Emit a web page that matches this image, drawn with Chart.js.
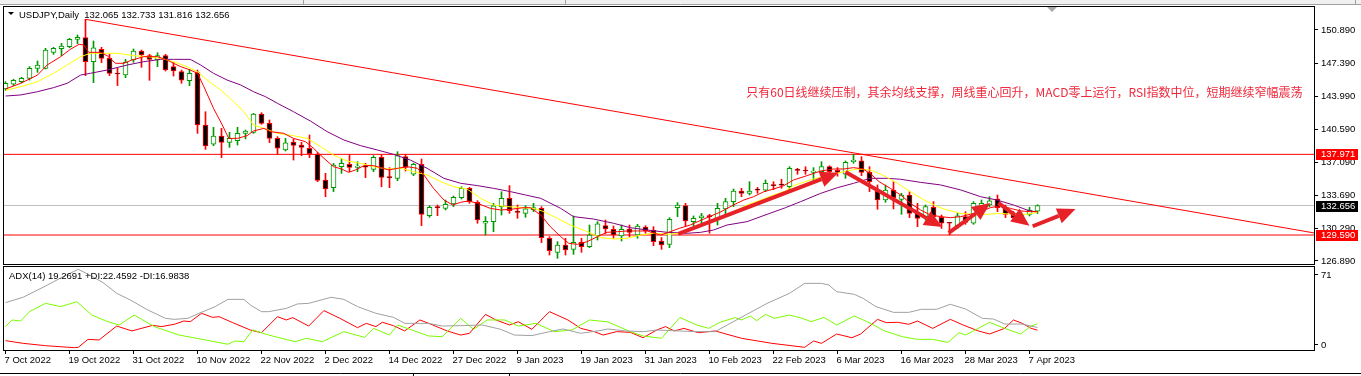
<!DOCTYPE html>
<html>
<head>
<meta charset="utf-8">
<script src="https://cdn.jsdelivr.net/npm/chart.js@4.4.0/dist/chart.umd.min.js"></script>
<style>
  html, body { margin: 0; padding: 0; background: #fff; }
  #wrap { position: relative; width: 1361px; height: 376px; overflow: hidden; background: #fff; }
  #main { position: absolute; left: 0; top: 0; width: 1361px; height: 265px; }
  #adx { position: absolute; left: 0; top: 265px; width: 1361px; height: 111px; }
</style>
</head>
<body>
<div id="wrap">
  <canvas id="main" width="1361" height="265"></canvas>
  <canvas id="adx" width="1361" height="111"></canvas>
</div>
<script>
// USDJPY daily, one entry per bar (bar 0 = 7 Oct 2022, bar 129 = 10 Apr 2023)
const opens = [144.76,145.25,145.52,145.87,146.91,146.91,148.57,148.95,149.16,149.92,
  150.09,147.60,148.88,147.95,146.36,146.21,147.77,148.71,148.22,147.77,
  148.22,147.08,146.56,145.63,146.46,141.02,139.04,139.88,139.22,139.39,
  140.15,140.26,142.16,141.19,139.63,138.42,139.25,138.94,138.60,137.97,
  135.31,134.51,136.69,136.93,136.62,136.69,136.41,137.66,135.62,135.48,
  137.73,135.90,136.93,131.60,132.47,132.36,132.81,133.47,134.44,132.99,
  130.81,130.98,132.54,133.40,132.02,131.84,132.19,132.36,129.25,127.79,
  128.55,128.10,128.83,128.38,129.49,130.56,130.18,129.49,130.21,129.59,
  130.42,130.11,128.97,128.62,132.43,132.64,130.98,131.39,131.57,131.25,
  132.30,133.06,134.16,133.92,134.30,134.26,134.75,134.82,134.62,136.34,
  136.27,136.10,136.17,136.69,136.30,135.90,137.21,137.31,136.10,134.16,
  133.23,134.27,133.30,133.75,131.84,131.50,132.47,131.43,130.84,130.56,
  131.50,130.81,132.54,132.71,133.33,132.43,131.67,131.40,131.74,132.065];
const highs = [145.52,145.77,145.97,147.08,147.67,148.99,149.09,149.50,150.02,150.37,
  152.00,149.75,149.09,148.36,146.91,147.84,148.92,148.81,148.36,148.53,
  148.36,147.50,146.73,146.80,146.73,142.40,140.78,140.67,140.26,140.78,
  140.50,142.23,142.30,141.54,139.81,139.63,139.57,139.22,139.98,138.15,
  136.00,137.04,137.49,137.97,137.21,137.04,137.83,137.90,136.59,138.25,
  137.97,137.04,137.49,132.64,132.71,133.23,133.64,134.61,134.54,133.16,
  131.50,132.88,134.09,134.72,132.71,132.64,132.88,132.54,129.42,128.90,
  129.25,131.57,129.25,130.63,130.98,131.15,130.53,130.63,130.63,130.70,
  130.56,130.46,129.32,131.39,132.95,132.88,131.57,131.84,131.74,132.88,
  133.40,134.37,134.44,135.13,134.54,135.31,135.13,135.38,136.69,136.52,
  136.69,136.59,137.21,136.79,136.60,137.28,137.97,137.73,136.69,134.79,
  134.79,135.13,133.92,134.09,132.88,132.71,133.06,131.67,130.91,131.84,
  132.02,133.06,133.23,133.57,133.75,132.71,132.02,131.90,132.47,132.733];
const lows = [144.62,145.11,145.38,145.69,146.49,146.84,148.36,148.22,149.05,149.47,
  146.15,145.42,147.50,146.15,145.11,145.94,147.53,147.01,145.66,147.08,
  146.63,146.11,145.35,145.11,140.15,138.49,138.87,137.63,138.70,138.94,
  139.57,140.15,141.09,139.19,137.97,138.32,137.38,137.83,137.63,135.13,
  133.57,134.10,136.00,136.17,136.17,135.55,136.17,134.60,134.51,135.24,
  136.24,135.76,130.56,131.43,131.60,132.19,132.54,133.33,132.88,130.81,
  129.59,129.94,131.67,131.84,131.32,131.43,132.02,128.80,127.51,127.17,
  127.51,127.58,127.79,128.28,129.07,129.77,129.25,128.97,129.42,129.25,
  129.77,128.48,128.10,128.28,131.50,130.46,130.56,130.63,129.77,130.63,
  131.67,132.54,133.57,133.75,133.92,134.10,134.30,134.44,134.27,135.90,
  135.90,135.13,135.90,135.48,135.70,135.48,137.04,135.76,134.10,132.26,
  132.99,132.30,131.74,131.39,130.46,131.15,131.25,130.28,129.59,130.28,
  130.70,130.70,132.02,132.54,132.02,131.39,131.15,131.20,131.57,131.816];
const closes = [145.35,145.66,145.87,146.91,147.25,148.81,148.99,149.23,149.92,150.13,
  147.60,149.05,147.95,146.39,146.32,147.53,148.71,148.29,147.84,148.22,
  146.73,146.63,145.69,146.39,141.02,138.84,139.88,139.22,139.63,140.15,
  140.40,142.16,141.19,139.63,138.60,139.18,138.91,138.70,138.04,135.27,
  134.37,136.86,137.04,136.62,136.76,136.65,137.66,135.58,135.55,137.83,
  136.62,136.93,131.74,132.47,132.43,132.78,133.51,134.44,133.06,131.15,
  131.01,132.61,133.40,132.12,131.95,132.30,132.43,129.32,127.96,128.55,
  128.03,128.83,128.38,129.59,130.74,130.21,129.59,130.18,129.87,130.53,
  130.01,128.90,128.55,131.22,132.71,131.05,131.32,131.57,131.50,132.36,
  133.06,134.16,133.92,134.16,134.26,134.96,134.72,134.78,136.52,136.31,
  136.24,136.24,136.69,136.17,136.10,137.14,137.38,136.10,135.13,133.23,
  134.27,133.47,133.75,131.84,131.32,132.54,131.50,130.81,130.81,131.57,
  130.91,132.88,132.88,133.13,132.43,131.74,131.39,131.70,132.19,132.656];

// one label every 8 bars
const dateLabels = ['7 Oct 2022','19 Oct 2022','31 Oct 2022','10 Nov 2022','22 Nov 2022',
  '2 Dec 2022','14 Dec 2022','27 Dec 2022','9 Jan 2023','19 Jan 2023','31 Jan 2023',
  '10 Feb 2023','22 Feb 2023','6 Mar 2023','16 Mar 2023','28 Mar 2023','7 Apr 2023'];

const priceTicks = [150.890, 147.390, 143.990, 140.590, 137.090, 133.690, 130.290, 126.890];

// moving averages, read as [bar, price]
const maFast = [[0,144.76],[1.9,145.35],[4,146.21],[5.2,147.25],[6.9,148.12],[8.1,148.88],[9.2,149.4],
  [9.8,149.33],[10.4,148.57],[11.9,148.57],[12.7,148.22],[13.75,147.43],[14.8,147.43],[15.8,147.77],
  [17.3,148.12],[19,148.12],[20.2,147.77],[21,147.43],[21.9,147.08],[23.1,146.73],[24,146.39],
  [24.8,145.0],[26,142.75],[27.1,141.02],[27.9,139.63],[29,139.63],[30.2,139.91],[31,140.4],
  [32.3,140.67],[33.1,140.33],[34.8,140.15],[36,139.63],[37.5,139.29],[38.5,138.6],[39.8,137.56],
  [41,136.69],[42,136.45],[42.9,136.1],[43.75,136.35],[44.8,136.8],[46,136.8],[46.9,136.59],
  [47.9,136.35],[49,136.52],[50.2,136.69],[51.5,136.52],[52.3,135.83],[53.5,134.44],[54.8,133.23],
  [55.9,132.71],[56.9,132.99],[57.9,133.13],[59,132.88],[60.6,132.36],[61.9,132.19],[63.1,132.26],
  [64.8,132.43],[65.6,132.43],[66.9,131.67],[68.1,130.46],[69.4,129.42],[70.4,128.73],[71.5,128.62],
  [72.7,128.9],[74,129.42],[75.2,129.87],[76.5,129.94],[77.7,130.01],[79,130.01],[80.2,130.01],
  [81.9,129.59],[82.9,129.87],[84.2,130.28],[85.6,130.63],[87,131.15],[88,131.5],[89.3,131.95],
  [91,132.71],[92.3,133.23],[93.5,133.57],[94.8,134.09],[96,134.37],[97.3,134.72],[98.5,135.31],
  [100.2,135.76],[101.9,136.24],[103.5,136.45],[104.8,136.45],[106,136.59],[107.2,136.45],
  [108.2,135.9],[109.2,135.13],[110.6,134.44],[111.9,133.75],[113.1,132.88],[114.4,132.19],
  [115.6,131.67],[116.9,131.5],[118.1,131.39],[119.4,131.5],[120.6,131.74],[121.9,132.02],
  [123.1,132.43],[124.4,132.64],[125.6,132.36],[126.9,132.09],[128.1,132.02],[129,132.02]];
const maMid = [[0,144.62],[1.9,145.0],[4,145.52],[6,146.39],[7.7,147.25],[9.4,148.12],[10.6,148.47],
  [12.7,148.47],[14,148.47],[16,148.22],[17.7,148.12],[19.4,147.95],[21,147.6],[22.7,147.08],
  [24,146.56],[25.2,145.69],[26.9,144.66],[28.5,143.45],[29.8,142.4],[31,141.02],[32.3,140.67],
  [34,140.15],[36,139.91],[37.7,139.63],[39.4,138.77],[41,137.9],[42.7,137.28],[44.4,137.04],
  [46,136.69],[47.7,136.45],[49.4,136.52],[51,136.17],[52.7,135.83],[54.4,135.13],[56,134.61],
  [57.7,134.37],[59.4,133.4],[61,132.71],[62.7,132.54],[64.8,132.43],[66,132.36],[67.3,132.02],
  [69,131.32],[70.6,130.63],[72.7,129.94],[74.4,129.32],[76,129.18],[77.7,129.25],[79.4,129.59],
  [81,129.77],[82.7,129.67],[84.4,129.77],[86,130.28],[87.7,130.81],[89.3,131.25],[91,132.02],
  [92.7,132.71],[94.4,133.23],[96,133.75],[97.5,134.16],[98.5,134.72],[101,135.41],[103.5,135.9],
  [105.2,136.24],[106.5,136.45],[108.1,136.35],[109.8,135.76],[111.5,134.96],[113.1,134.1],
  [114.8,133.23],[116.5,132.54],[117.7,132.19],[119.4,131.84],[121,131.74],[122.7,131.74],
  [124.4,131.84],[126,131.74],[127.7,131.74],[129,131.95]];
const maSlow = [[0,144.03],[1.9,144.14],[4,144.48],[6,144.9],[7.7,145.35],[9.4,146.21],[10.6,146.39],
  [12.7,146.73],[15.2,147.25],[17.3,147.6],[19.4,147.84],[21,147.84],[23.1,147.84],[24.4,147.25],
  [26,146.39],[27.7,145.69],[29.4,145.18],[31,144.48],[32.5,143.96],[34,143.27],[36,142.4],
  [38.1,141.44],[40.2,140.33],[42.3,139.46],[44.4,138.87],[46.5,138.42],[48.5,137.97],[50.6,137.38],
  [52.7,136.52],[54.8,135.48],[56.9,134.96],[59,134.72],[61,134.44],[63.1,134.1],[65,133.75],
  [66.9,133.4],[69.4,132.36],[71,131.5],[73.5,131.25],[76,130.81],[78.1,130.35],[80.2,130.11],
  [82.7,129.87],[85.2,129.77],[86.9,129.87],[88.5,130.11],[90.2,130.63],[92.7,130.98],[95.2,131.74],
  [97.5,132.43],[99.4,133.06],[101.9,133.92],[104,134.51],[106,134.96],[108.1,135.48],[110.2,135.48],
  [111.9,135.38],[114.4,135.06],[116.9,134.79],[119.4,134.27],[121.9,133.57],[123.9,133.23],
  [126,132.71],[127.7,132.19],[129,131.95]];

// ADX(14) window, read as [bar, value]
const adxLine = [[0,40.5],[2.2,45.1],[5.0,54.7],[7.2,62.7],[9.1,69.0],[10.5,64.2],[12.2,57.6],
  [13.9,48.5],[15.6,42.8],[17.8,34.2],[20.0,27.1],[21.1,26.2],[22.8,27.1],[24.2,31.4],[26.2,37.1],
  [27.8,43.3],[29.8,43.3],[30.6,38.5],[32.0,32.8],[32.9,32.8],[35.1,35.6],[36.5,39.4],[37.9,39.9],
  [40.7,45.1],[42.3,43.3],[44.0,37.1],[46.3,31.4],[48.5,27.9],[49.9,22.8],[52.9,22.8],[54.6,20.5],
  [56.9,20.8],[59.6,21.4],[61.9,17.7],[63.6,12.8],[65.8,12.3],[68.0,15.7],[69.7,18.0],[71.9,14.3],
  [74.2,16.5],[75.3,18.0],[77.5,16.3],[79.7,15.7],[81.4,17.1],[84.2,16.3],[86.4,15.7],[88.7,15.7],
  [92.5,29.9],[95.2,39.9],[98.0,48.5],[99.9,57.0],[102.0,57.0],[102.9,55.6],[103.9,49.9],
  [106.1,47.6],[107.2,44.2],[108.8,37.1],[111.0,32.2],[112.9,32.2],[114.5,34.8],[116.4,34.8],
  [118.1,39.1],[120.0,35.1],[122.1,27.1],[123.5,26.5],[124.9,22.2],[127.0,22.2],[129,19.27]];
const plusDI = [[0,20.0],[0.8,25.7],[1.9,24.8],[3.0,32.8],[5.0,39.9],[6.9,37.1],[8.9,41.3],
  [10.8,29.9],[12.8,24.2],[14.2,21.4],[16.1,29.9],[18.6,20.0],[21.7,12.8],[25.0,8.6],[27.8,4.9],
  [28.7,7.7],[29.8,7.1],[30.9,17.1],[32.9,12.8],[36.2,7.1],[37.6,10.0],[39.6,7.1],[42.3,15.7],
  [44.9,10.8],[46.0,18.5],[48.0,12.8],[49.0,21.4],[52.9,12.0],[54.6,11.4],[56.9,27.1],[58.5,17.7],
  [60.2,25.7],[62.4,25.7],[64.1,20.5],[66.3,22.8],[68.6,15.7],[70.8,17.1],[73.0,25.7],[75.3,24.0],
  [78.1,15.7],[79.7,12.0],[82.0,10.0],[84.3,27.8],[86.4,21.4],[87.9,18.5],[89.3,23.7],[91.2,27.7],
  [92.0,25.7],[93.1,29.1],[93.9,25.1],[95.0,30.5],[96.1,27.1],[98.0,29.9],[99.6,27.1],[100.7,24.2],
  [102.3,27.9],[103.9,21.4],[106.1,29.1],[107.7,24.2],[109.9,16.3],[112.1,11.4],[114.0,9.1],
  [115.9,9.1],[117.8,6.5],[119.2,14.8],[120.0,12.8],[121.6,18.5],[123.0,23.7],[124.9,18.5],
  [126.9,13.7],[128.2,20.5],[129,22.46]];
const minusDI = [[0,8.0],[2.2,5.7],[5.0,3.7],[8.6,2.0],[9.1,2.3],[10.3,9.1],[11.7,8.6],[13.9,20.5],
  [15.8,16.3],[18.4,21.1],[19.5,20.0],[21.1,22.0],[22.3,24.8],[23.1,24.2],[24.5,31.4],[25.9,27.9],
  [26.7,28.5],[28.4,23.4],[30.6,17.1],[32.0,14.8],[34.0,28.5],[35.1,25.7],[35.9,27.7],[37.9,20.5],
  [39.8,33.7],[41.8,27.1],[44.0,19.1],[45.1,22.8],[46.3,20.0],[47.1,23.7],[48.5,20.8],[49.9,16.3],
  [51.8,25.7],[52.9,22.8],[55.2,16.3],[56.9,12.8],[58.0,14.3],[60.0,30.5],[61.3,25.7],[63.0,21.4],
  [64.1,24.2],[65.8,17.7],[68.0,32.8],[70.3,25.7],[71.9,18.5],[73.6,15.7],[74.7,12.8],[76.4,15.7],
  [78.1,15.1],[79.7,10.5],[81.4,17.1],[82.5,20.0],[83.6,16.3],[84.8,18.5],[86.6,14.8],[88.7,16.3],
  [92.0,10.0],[95.8,5.7],[99.9,2.3],[101.0,7.7],[102.0,5.7],[103.9,13.7],[105.8,10.5],[106.9,13.7],
  [109.0,26.2],[110.1,23.4],[111.5,23.7],[112.9,22.0],[114.0,24.8],[115.9,18.5],[118.1,26.2],
  [119.7,21.4],[121.6,16.3],[123.0,13.7],[124.9,18.5],[126.0,25.7],[127.1,22.8],[128.2,18.5],
  [129,16.98]];

// drawn objects
const trendLine = [[10,152.0],[163.6,129.8]];
const levelHigh = 137.971;
const levelLow = 129.590;
const lastPrice = 132.656;
const arrows = [
  [[84.1,129.70],[104.1,136.06]],
  [[105.0,136.14],[117.1,130.42]],
  [[117.9,129.80],[123.1,132.92]],
  [[124.1,132.92],[128.0,130.56]],
  [[128.4,130.50],[133.75,132.28]]
];
const noteAt = [92.6, 144.45];
const note = '只有60日线继续压制，其余均线支撑，周线重心回升，MACD零上运行，RSI指数中位，短期继续窄幅震荡';
const title = 'USDJPY,Daily  132.065 132.733 131.816 132.656';
const adxTitle = 'ADX(14) 19.2691 +DI:22.4592 -DI:16.9838';

const GREEN = '#009a00';
const RED = '#ff0000';
const FONT = 'Liberation Sans';
Chart.defaults.font.family = FONT;

const xMin = -0.1875, xMax = 163.5625;
const up = opens.map((o, i) => closes[i] >= o);
const toXY = arr => arr.map(p => ({x: p[0], y: p[1]}));
const hline = v => [{x: xMin - 1, y: v}, {x: xMax + 1, y: v}];

function drawArrow(ctx, x1, y1, x2, y2) {
  const a = Math.atan2(y2 - y1, x2 - x1);
  const len = 18, half = 8;
  const bx = x2 - len * Math.cos(a), by = y2 - len * Math.sin(a);
  ctx.save();
  ctx.strokeStyle = '#e62228';
  ctx.fillStyle = '#e62228';
  ctx.lineWidth = 4;
  ctx.beginPath();
  ctx.moveTo(x1, y1);
  ctx.lineTo(bx, by);
  ctx.stroke();
  ctx.beginPath();
  ctx.moveTo(x2, y2);
  ctx.lineTo(bx + half * Math.sin(a), by - half * Math.cos(a));
  ctx.lineTo(bx - half * Math.sin(a), by + half * Math.cos(a));
  ctx.closePath();
  ctx.fill();
  ctx.restore();
}

function priceBox(ctx, y, value, bg) {
  ctx.fillStyle = bg;
  ctx.fillRect(1316, Math.round(y) - 5, 42, 11);
  ctx.fillStyle = '#fff';
  ctx.font = '9.5px "' + FONT + '"';
  ctx.textBaseline = 'middle';
  ctx.textAlign = 'left';
  ctx.fillText(value.toFixed(3), 1321, Math.round(y) + 0.5);
}

const mainDecor = {
  id: 'mainDecor',
  afterDraw(chart) {
    const ctx = chart.ctx;
    const xs = chart.scales.x, ys = chart.scales.y;
    ctx.save();
    // window top strip
    ctx.fillStyle = '#f0f0f0';
    ctx.fillRect(0, 0, 1361, 4);
    ctx.strokeStyle = '#a0a0a0';
    ctx.lineWidth = 1;
    ctx.beginPath();
    ctx.moveTo(0, 4.5); ctx.lineTo(1361, 4.5);
    [303.5, 565.5, 1355.5].forEach(x => { ctx.moveTo(x, 0); ctx.lineTo(x, 4); });
    ctx.stroke();
    // frame
    ctx.strokeStyle = '#000';
    ctx.strokeRect(3.5, 6.5, 1311, 258);
    // shift marker
    ctx.fillStyle = '#a8a8a8';
    ctx.beginPath();
    ctx.moveTo(1047, 7); ctx.lineTo(1057, 7); ctx.lineTo(1052, 12); ctx.closePath();
    ctx.fill();
    // title
    ctx.fillStyle = '#000';
    ctx.beginPath();
    ctx.moveTo(8, 12); ctx.lineTo(14, 12); ctx.lineTo(11, 15); ctx.closePath();
    ctx.fill();
    ctx.font = '9.5px "' + FONT + '"';
    ctx.textBaseline = 'alphabetic';
    ctx.textAlign = 'left';
    ctx.fillText(title, 19, 18);
    // arrows
    ctx.save();
    ctx.beginPath();
    ctx.rect(chart.chartArea.left, chart.chartArea.top, chart.chartArea.width, chart.chartArea.height);
    ctx.clip();
    arrows.forEach(a => drawArrow(ctx,
      xs.getPixelForValue(a[0][0]), ys.getPixelForValue(a[0][1]),
      xs.getPixelForValue(a[1][0]), ys.getPixelForValue(a[1][1])));
    ctx.restore();
    // note
    ctx.fillStyle = '#f0283c';
    ctx.font = '12px "Noto Sans CJK SC"';
    ctx.textBaseline = 'middle';
    ctx.fillText(note, xs.getPixelForValue(noteAt[0]), ys.getPixelForValue(noteAt[1]));
    // price labels
    priceBox(ctx, ys.getPixelForValue(levelHigh), levelHigh, '#ff0000');
    priceBox(ctx, ys.getPixelForValue(lastPrice), lastPrice, '#000');
    priceBox(ctx, ys.getPixelForValue(levelLow), levelLow, '#ff0000');
    ctx.restore();
  }
};

const adxDecor = {
  id: 'adxDecor',
  afterDraw(chart) {
    const ctx = chart.ctx;
    const ca = chart.chartArea;
    ctx.save();
    ctx.strokeStyle = '#000';
    ctx.lineWidth = 1;
    ctx.strokeRect(3.5, 1.5, 1311, 84);
    ctx.beginPath();
    ctx.moveTo(ca.right, ca.top + 7.5); ctx.lineTo(ca.right + 4, ca.top + 7.5);
    ctx.moveTo(ca.right, ca.bottom - 5.5); ctx.lineTo(ca.right + 4, ca.bottom - 5.5);
    ctx.stroke();
    ctx.fillStyle = '#000';
    ctx.font = '9.5px "' + FONT + '"';
    ctx.textBaseline = 'middle';
    ctx.textAlign = 'left';
    ctx.fillText('71', 1321, ca.top + 8);
    ctx.fillText('0', 1321, ca.bottom - 5);
    ctx.fillText(adxTitle, 9, 11);
    // status bar line
    ctx.strokeStyle = '#000';
    ctx.beginPath();
    ctx.moveTo(0, 108.5); ctx.lineTo(1361, 108.5);
    ctx.moveTo(413.5, 108); ctx.lineTo(413.5, 111);
    ctx.moveTo(509.5, 108); ctx.lineTo(509.5, 111);
    ctx.stroke();
    ctx.restore();
  }
};

const lineStyle = {type: 'line', pointRadius: 0, borderWidth: 1, tension: 0, fill: false};

new Chart(document.getElementById('main'), {
  type: 'bar',
  data: {
    datasets: [
      Object.assign({}, lineStyle, {data: toXY(maFast), borderColor: '#ff0000', order: 0}),
      Object.assign({}, lineStyle, {data: toXY(maMid), borderColor: '#ffff00', order: 0}),
      Object.assign({}, lineStyle, {data: toXY(maSlow), borderColor: '#800080', order: 0}),
      {
        data: opens.map((o, i) => ({x: i, y: [Math.min(o, closes[i]), Math.max(o, closes[i])]})),
        backgroundColor: up.map(u => u ? '#ffffff' : '#000000'),
        borderColor: up.map(u => u ? GREEN : RED),
        borderWidth: 1, borderSkipped: false, barThickness: 5, minBarLength: 1,
        grouped: false, order: 1
      },
      {
        data: opens.map((o, i) => ({x: i, y: [lows[i], highs[i]]})),
        backgroundColor: up.map(u => u ? GREEN : RED),
        borderWidth: 0, barThickness: 1, grouped: false, order: 2
      },
      Object.assign({}, lineStyle, {data: toXY(trendLine), borderColor: '#ff0000', order: 3}),
      Object.assign({}, lineStyle, {data: hline(levelHigh), borderColor: '#ff0000', order: 3}),
      Object.assign({}, lineStyle, {data: hline(levelLow), borderColor: '#ff0000', order: 3}),
      Object.assign({}, lineStyle, {data: hline(lastPrice), borderColor: '#c0c0c0', order: 4})
    ]
  },
  options: {
    responsive: false,
    animation: false,
    events: [],
    layout: {padding: {left: 4, top: 7, right: 0, bottom: 1}},
    plugins: {legend: {display: false}, tooltip: {enabled: false}},
    scales: {
      x: {type: 'linear', min: xMin, max: xMax, offset: false, display: false},
      y: {
        position: 'right',
        min: 126.5783, max: 153.2796,
        afterBuildTicks: s => { s.ticks = priceTicks.map(v => ({value: v})); },
        afterFit: s => { s.width = 47; s.paddingTop = 0; s.paddingBottom = 0; },
        ticks: {
          color: '#000', padding: 3, font: {size: 9.5},
          callback: v => v.toFixed(3)
        },
        grid: {drawOnChartArea: false, drawTicks: true, tickLength: 4, color: '#000'},
        border: {display: false}
      }
    }
  },
  plugins: [mainDecor]
});

new Chart(document.getElementById('adx'), {
  type: 'line',
  data: {
    datasets: [
      Object.assign({}, lineStyle, {data: toXY(adxLine), borderColor: '#a0a0a0'}),
      Object.assign({}, lineStyle, {data: toXY(plusDI), borderColor: '#7cfc00'}),
      Object.assign({}, lineStyle, {data: toXY(minusDI), borderColor: '#ff0000'})
    ]
  },
  options: {
    responsive: false,
    animation: false,
    events: [],
    layout: {padding: {left: 4, top: 2, right: 47, bottom: 0}},
    plugins: {legend: {display: false}, tooltip: {enabled: false}},
    scales: {
      x: {
        type: 'linear', min: xMin, max: xMax, offset: false,
        afterBuildTicks: s => { s.ticks = dateLabels.map((d, k) => ({value: k * 8})); },
        afterFit: s => { s.height = 26; s.paddingLeft = 0; s.paddingRight = 0; },
        ticks: {
          color: '#000', padding: 1, font: {size: 9.5}, align: 'start',
          autoSkip: false, maxRotation: 0, minRotation: 0, labelOffset: -1,
          callback: v => dateLabels[Math.round(v / 8)]
        },
        grid: {drawOnChartArea: false, drawTicks: true, tickLength: 4, color: '#000'},
        border: {display: false}
      },
      y: {min: 0, max: 71, display: false}
    }
  },
  plugins: [adxDecor]
});
</script>
</body>
</html>
